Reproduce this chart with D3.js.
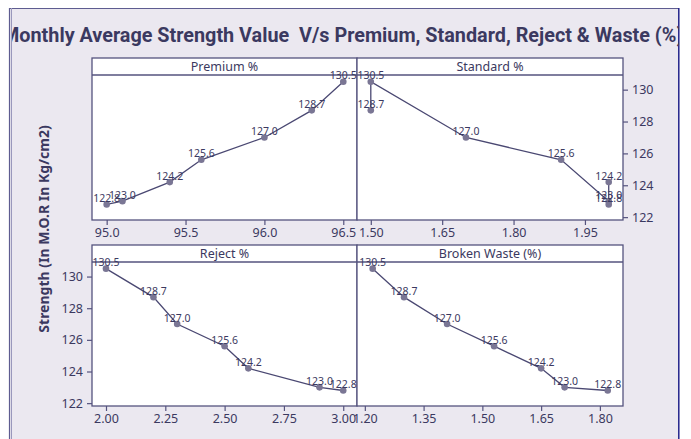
<!DOCTYPE html>
<html>
<head>
<meta charset="utf-8">
<script src="https://cdn.jsdelivr.net/npm/d3@7"></script>
<style>
  html, body { margin: 0; padding: 0; background: #ffffff; }
  svg { display: block; }
  text { font-family: "Noto Sans", "DejaVu Sans", sans-serif; fill: #3b3960; }
</style>
</head>
<body>
<svg id="chart" width="691" height="439"></svg>
<script>
// Monthly average strength (M.O.R, Kg/cm2) and the matching grade mix (%)
const strength = [123.0, 122.8, 124.2, 125.6, 127.0, 128.7, 130.5];
const premium  = [95.1, 95.0, 95.4, 95.6, 96.0, 96.3, 96.5];
const standard = [2.00, 2.00, 2.00, 1.90, 1.70, 1.50, 1.50];
const reject   = [2.90, 3.00, 2.60, 2.50, 2.30, 2.20, 2.00];
const broken   = [1.71, 1.82, 1.65, 1.53, 1.41, 1.30, 1.22];

const panelTitles = ["Premium %", "Standard %", "Reject %", "Broken Waste (%)"];
const premiumTicks  = [95.0, 95.5, 96.0, 96.5];
const standardTicks = [1.50, 1.65, 1.80, 1.95];
const rejectTicks   = [2.00, 2.25, 2.50, 2.75, 3.00];
const brokenTicks   = [1.20, 1.35, 1.50, 1.65, 1.80];
const strengthTicks = [122, 124, 126, 128, 130];

const titleText = "Monthly Average Strength Value  V/s Premium, Standard, Reject & Waste (%)";
const yLabel = "Strength (In M.O.R In Kg/cm2)";

const svg = d3.select("#chart");
const W = 691, H = 439;

// frame & background
const frame = { x0: 9, y0: 8, x1: 679, y1: H };
svg.append("rect").attr("x", frame.x0).attr("y", frame.y0)
  .attr("width", frame.x1 - frame.x0).attr("height", frame.y1 - frame.y0)
  .attr("fill", "#ebe8f0");
svg.append("defs").append("clipPath").attr("id", "frameClip")
  .append("rect").attr("x", 12).attr("y", frame.y0)
  .attr("width", frame.x1 - 12).attr("height", H - frame.y0);

svg.append("line").attr("x1", frame.x0).attr("x2", frame.x1)
  .attr("y1", frame.y0 + 0.5).attr("y2", frame.y0 + 0.5)
  .attr("stroke", "#5e5c90").attr("stroke-width", 1);
svg.append("line").attr("x1", 9.5).attr("x2", 9.5).attr("y1", frame.y0).attr("y2", H)
  .attr("stroke", "#5e5c90").attr("stroke-width", 1.2);
svg.append("line").attr("x1", 11.5).attr("x2", 11.5).attr("y1", frame.y0).attr("y2", H)
  .attr("stroke", "#9a98bc").attr("stroke-width", 1);
svg.append("line").attr("x1", 678.8).attr("x2", 678.8).attr("y1", frame.y0).attr("y2", H)
  .attr("stroke", "#22228a").attr("stroke-width", 1.5);

// title, clipped by the frame
const titleFont = "Roboto, 'Noto Sans', sans-serif";
const tg = svg.append("g").attr("clip-path", "url(#frameClip)");
const title = tg.append("text")
  .attr("x", 2).attr("y", 42)
  .style("white-space", "pre")
  .style("font-family", titleFont)
  .style("font-weight", "bold")
  .style("font-size", "17px")
  .text(titleText);
// size the title so "Monthly … (%" spans 2 → 677
{
  const visible = titleText.slice(0, titleText.length - 1);
  const probe = svg.append("text").style("white-space", "pre")
    .style("font-family", titleFont)
    .style("font-weight", "bold").style("font-size", "17px").text(visible);
  const w = probe.node().getComputedTextLength();
  probe.remove();
  title.style("font-size", (17 * 675 / w).toFixed(2) + "px");
}

// y axis title
svg.append("text")
  .attr("transform", "translate(49,229) rotate(-90)")
  .attr("text-anchor", "middle")
  .style("font-weight", "bold")
  .style("font-size", "14px")
  .text(yLabel);

// panel layout
const colX = [[92, 357], [357, 623]];
const rowY = [{ top: 58, head: 75, bottom: 220 }, { top: 245, head: 262, bottom: 406 }];
const xDomains = [[94.907, 96.587], [1.471, 2.030], [1.941, 3.058], [1.180, 1.859]];
const xSeries = [premium, standard, reject, broken];
const xTickSets = [premiumTicks, standardTicks, rejectTicks, brokenTicks];
const xFormats = [d3.format(".1f"), d3.format(".2f"), d3.format(".2f"), d3.format(".2f")];
const yDomain = [121.82, 130.92];

const ink = "#55537e";

panelTitles.forEach((name, i) => {
  const c = colX[i % 2], r = rowY[Math.floor(i / 2)];
  const x = d3.scaleLinear().domain(xDomains[i]).range(c);
  const y = d3.scaleLinear().domain(yDomain).range([r.bottom, r.head]);
  const g = svg.append("g");

  // plot area and header strip
  g.append("rect").attr("x", c[0]).attr("y", r.top)
    .attr("width", c[1] - c[0]).attr("height", r.bottom - r.top)
    .attr("fill", "#ffffff").attr("stroke", ink).attr("stroke-width", 1.3);
  g.append("line").attr("x1", c[0]).attr("x2", c[1]).attr("y1", r.head).attr("y2", r.head)
    .attr("stroke", ink).attr("stroke-width", 1.3);
  g.append("text").attr("x", (c[0] + c[1]) / 2).attr("y", r.head - 4)
    .attr("text-anchor", "middle").style("font-size", "12.5px").text(name);

  // x axis
  const xa = g.append("g").attr("transform", `translate(0,${r.bottom})`)
    .call(d3.axisBottom(x).tickValues(xTickSets[i]).tickFormat(xFormats[i])
      .tickSizeInner(5).tickSizeOuter(0).tickPadding(3));
  xa.select(".domain").remove();
  xa.selectAll("line").attr("stroke", ink).attr("stroke-width", 1.2);
  xa.selectAll("text").style("font-size", "12.5px").attr("fill", "#3b3960")
    .style("font-family", "'Noto Sans', sans-serif");

  // y axes: left on bottom-left panel, right on top-right panel
  if (i === 2 || i === 1) {
    const axis = i === 2 ? d3.axisLeft(y) : d3.axisRight(y);
    const ya = g.append("g").attr("transform", `translate(${i === 2 ? c[0] : c[1]},0)`)
      .call(axis.tickValues(strengthTicks).tickSizeInner(5).tickSizeOuter(0).tickPadding(4));
    ya.select(".domain").remove();
    ya.selectAll("line").attr("stroke", ink).attr("stroke-width", 1.2);
    ya.selectAll("text").style("font-size", "12.5px").attr("fill", "#3b3960")
      .style("font-family", "'Noto Sans', sans-serif");
  }

  // points joined in order of the x value
  const pts = strength.map((s, k) => ({ x: xSeries[i][k], y: s, k }))
    .sort((a, b) => d3.ascending(a.x, b.x) || d3.ascending(a.k, b.k));
  g.append("path").datum(pts)
    .attr("d", d3.line().x(d => x(d.x)).y(d => y(d.y)))
    .attr("fill", "none").attr("stroke", "#4a4872").attr("stroke-width", 1.3);
  g.selectAll("circle.pt").data(pts).join("circle")
    .attr("class", "pt")
    .attr("cx", d => x(d.x)).attr("cy", d => y(d.y)).attr("r", 3.3)
    .attr("fill", "#7a7694");
  g.selectAll("text.lbl").data(pts).join("text")
    .attr("class", "lbl")
    .attr("x", d => x(d.x)).attr("y", d => y(d.y) - 2.5)
    .attr("text-anchor", "middle")
    .style("font-size", "10.5px")
    .text(d => d.y.toFixed(1));
});
</script>
</body>
</html>
